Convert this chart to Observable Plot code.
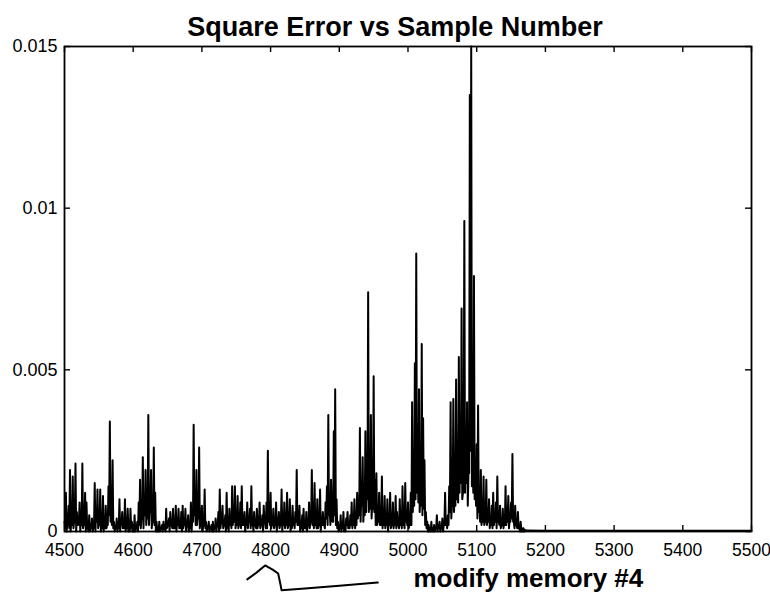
<!DOCTYPE html>
<html>
<head>
<meta charset="utf-8">
<script src="https://cdn.jsdelivr.net/npm/d3@7"></script>
<script src="https://cdn.jsdelivr.net/npm/@observablehq/plot@0.6"></script>
<style>
  html, body { margin: 0; padding: 0; background: #fff; }
  #chart svg { display: block; }
</style>
</head>
<body>
<div id="chart"></div>
<script>
// ---- data ----
const xTicks = [4500, 4600, 4700, 4800, 4900, 5000, 5100, 5200, 5300, 5400, 5500];
const yTicks = [0, 0.005, 0.01, 0.015];
const yTickLabels = ["0", "0.005", "0.01", "0.015"];

// square error in units of 1e-4
// even samples 4500, 4502, ..., 5170
const evenStart = 4500;
const errEvenE4 = [
  3, 12, 2, 8, 19, 4, 17, 3, 21, 6,        // 4500
  2, 9, 5, 21, 3, 12, 9, 1, 5, 2,          // 4520
  4, 1, 15, 6, 13, 3, 13, 2, 11, 4,        // 4540
  8, 2, 14, 34, 5, 22, 3, 1, 4, 2,         // 4560
  10, 3, 6, 2, 10, 4, 7, 1, 7, 3,          // 4580
  2, 5, 1, 3, 9, 16, 4, 23, 11, 19,        // 4600
  6, 36, 8, 19, 4, 26, 12, 3, 1, 3,        // 4620
  1, 2, 3, 1, 7, 2, 4, 6, 2, 7,            // 4640
  3, 8, 4, 7, 2, 6, 8, 3, 7, 2,            // 4660
  5, 2, 9, 4, 33, 7, 19, 5, 26, 4,         // 4680
  8, 2, 13, 3, 1, 3, 1, 2, 3, 1,           // 4700
  4, 2, 6, 13, 3, 8, 2, 5, 12, 4,          // 4720
  7, 3, 14, 6, 14, 4, 11, 2, 9, 14,        // 4740
  5, 6, 2, 9, 4, 7, 14, 3, 6, 2,           // 4760
  7, 3, 9, 2, 5, 8, 3, 9, 25, 5,           // 4780
  12, 3, 7, 2, 9, 4, 6, 2, 13, 5,          // 4800
  9, 3, 12, 2, 10, 4, 8, 3, 6, 19,         // 4820
  4, 8, 2, 5, 7, 1, 6, 2, 9, 3,            // 4840
  19, 6, 15, 3, 10, 2, 13, 4, 6, 2,        // 4860
  9, 14, 36, 7, 16, 3, 31, 44, 10, 3,      // 4880
  1, 5, 2, 6, 1, 4, 6, 2, 5, 9,            // 4900
  3, 10, 4, 12, 8, 32, 11, 23, 9, 31,      // 4920
  14, 74, 22, 36, 9, 48, 16, 18, 5, 12,    // 4940
  4, 17, 6, 11, 3, 10, 5, 12, 2, 9,        // 4960
  3, 11, 6, 2, 10, 4, 14, 3, 15, 4,        // 4980
  9, 2, 12, 40, 18, 52, 86, 30, 44, 12,    // 5000
  58, 35, 22, 6, 3, 2, 1, 3, 1, 2,         // 5020
  1, 5, 2, 3, 1, 4, 2, 12, 3, 5,           // 5040
  14, 40, 8, 41, 15, 47, 20, 54, 30, 69,   // 5060
  12, 96, 25, 40, 18, 135, 150, 30, 79, 20,// 5080
  27, 39, 9, 19, 5, 17, 3, 16, 6, 10,      // 5100
  3, 8, 12, 4, 9, 17, 3, 8, 2, 7,          // 5120
  3, 14, 5, 11, 4, 9, 24, 3, 8, 2,         // 5140
  6, 1, 3, 1, 1, 0.5                       // 5160
];
// odd samples 4501, 4503, ..., 5169 (the dips between strokes)
const oddStart = 4501;
const errOddE4 = [
  1, 0, 3, 1, 0, 2, 1, 4, 0, 2,            // 4501
  3, 0, 2, 1, 2, 0, 1, 0, 0, 1,            // 4521
  0, 2, 0, 3, 1, 2, 0, 1, 0, 1,            // 4541
  1, 2, 5, 3, 2, 1, 0, 1, 0, 1,            // 4561
  0, 2, 1, 1, 0, 1, 0, 0, 1, 0,            // 4581
  0, 0, 1, 0, 2, 1, 4, 1, 5, 2,            // 4601
  4, 2, 6, 1, 3, 2, 0, 0, 0, 0,            // 4621
  1, 0, 1, 0, 1, 2, 0, 2, 1, 1,            // 4641
  1, 0, 2, 1, 1, 0, 1, 2, 0, 2,            // 4661
  0, 1, 0, 3, 5, 2, 2, 4, 1, 2,            // 4681
  0, 2, 1, 0, 1, 0, 1, 0, 0, 1,            // 4701
  0, 2, 0, 1, 3, 1, 2, 0, 1, 0,            // 4721
  2, 1, 2, 3, 1, 2, 1, 3, 1, 2,            // 4741
  2, 0, 2, 1, 3, 1, 2, 0, 2, 1,            // 4761
  1, 2, 1, 2, 0, 3, 1, 1, 3, 2,            // 4781
  1, 2, 1, 2, 0, 2, 1, 3, 0, 2,            // 4801
  1, 2, 1, 2, 0, 1, 2, 1, 3, 2,            // 4821
  2, 0, 1, 0, 1, 1, 0, 2, 1, 3,            // 4841
  2, 1, 2, 1, 1, 2, 0, 2, 2, 1,            // 4861
  4, 2, 5, 2, 6, 3, 5, 2, 1, 0,            // 4881
  1, 0, 1, 0, 0, 2, 1, 1, 2, 1,            // 4901
  2, 1, 2, 4, 5, 3, 8, 3, 5, 6,            // 4921
  10, 6, 7, 4, 7, 6, 2, 2, 3, 2,           // 4941
  2, 1, 2, 1, 2, 0, 2, 1, 2, 1,            // 4961
  2, 1, 2, 1, 2, 1, 2, 1, 3, 2,            // 4981
  1, 2, 2, 6, 8, 10, 12, 9, 6, 8,          // 5001
  5, 7, 2, 1, 0, 0, 0, 0, 0, 0,            // 5021
  1, 0, 1, 0, 1, 0, 2, 2, 1, 2,            // 5041
  6, 4, 8, 6, 8, 10, 9, 12, 15, 10,        // 5061
  18, 12, 15, 8, 18, 25, 14, 12, 10, 8,    // 5081
  4, 6, 3, 2, 3, 2, 3, 2, 3, 1,            // 5101
  2, 1, 2, 3, 1, 3, 2, 1, 2, 1,            // 5121
  2, 2, 3, 1, 3, 4, 3, 1, 2, 1,            // 5141
  1, 0, 0, 0, 0                            // 5161
];
// near-zero tail after the error has settled
const tailSamples = [5172, 5200, 5300, 5400, 5500];
const tailErrE4 = [0.3, 0.2, 0.2, 0.2, 0.2];

// hand-drawn annotation under the axis (data units)
const noteArrowX = [4766, 4779, 4792, 4803, 4811, 4814, 4816, 4850, 4900, 4956];
const noteArrowY = [-0.00148, -0.00128, -0.00105, -0.00118, -0.00130, -0.00160, -0.00182, -0.00176, -0.00168, -0.00158];
const noteText = "modify memory #4";
const noteTextX = 5008;
const noteTextY = -0.00145;

const titleText = "Square Error vs Sample Number";

// ---- build table ----
const series = errEvenE4.map((v, i) => ({x: evenStart + 2 * i, y: v / 1e4}))
  .concat(errOddE4.map((v, i) => ({x: oddStart + 2 * i, y: v / 1e4})))
  .concat(tailSamples.map((s, i) => ({x: s, y: tailErrE4[i] / 1e4})))
  .sort((a, b) => a.x - b.x);
const arrow = noteArrowX.map((x, i) => ({x, y: noteArrowY[i]}));

const W = 770, H = 608;
const mL = 64, mR = 19, mT = 46, mB = 77;
const fw = W - mL - mR, fh = H - mT - mB;
const tick = 6;

const chart = Plot.plot({
  width: W,
  height: H,
  marginLeft: mL,
  marginRight: mR,
  marginTop: mT,
  marginBottom: mB,
  style: {fontFamily: "'Liberation Sans', Arial, Helvetica, sans-serif", background: "#fff", color: "#000"},
  x: {domain: [4500, 5500], axis: null},
  y: {domain: [0, 0.015], axis: null},
  marks: [
    Plot.line(series, {x: "x", y: "y", stroke: "#000", strokeWidth: 2}),
    Plot.frame({stroke: "#000", strokeWidth: 1.8}),
    // inward tick marks on all four sides
    Plot.ruleX(xTicks, {x: d => d, insetTop: fh - tick, stroke: "#000", strokeWidth: 1.4}),
    Plot.ruleX(xTicks, {x: d => d, insetBottom: fh - tick, stroke: "#000", strokeWidth: 1.4}),
    Plot.ruleY(yTicks, {y: d => d, insetRight: fw - tick, stroke: "#000", strokeWidth: 1.4}),
    Plot.ruleY(yTicks, {y: d => d, insetLeft: fw - tick, stroke: "#000", strokeWidth: 1.4}),
    // tick labels
    Plot.axisX({ticks: xTicks, tickSize: 0, tickPadding: 12, fontSize: 17.5, label: null, tickFormat: d => String(d)}),
    Plot.axisY({ticks: yTicks, tickSize: 0, tickPadding: 7, fontSize: 18, label: null, tickFormat: d => yTickLabels[yTicks.indexOf(d)]}),
    // title
    Plot.text([titleText], {frameAnchor: "top", dx: -13, dy: -19, lineAnchor: "middle", fontSize: 27, fontWeight: "bold", fill: "#000", text: d => d}),
    // annotation
    Plot.line(arrow, {x: "x", y: "y", stroke: "#000", strokeWidth: 2, curve: "linear"}),
    Plot.text([noteText], {x: () => noteTextX, y: () => noteTextY, text: d => d, textAnchor: "start", lineAnchor: "middle", fontSize: 26, fontWeight: "bold", fill: "#000"})
  ]
});
document.getElementById("chart").appendChild(chart);
</script>
</body>
</html>
